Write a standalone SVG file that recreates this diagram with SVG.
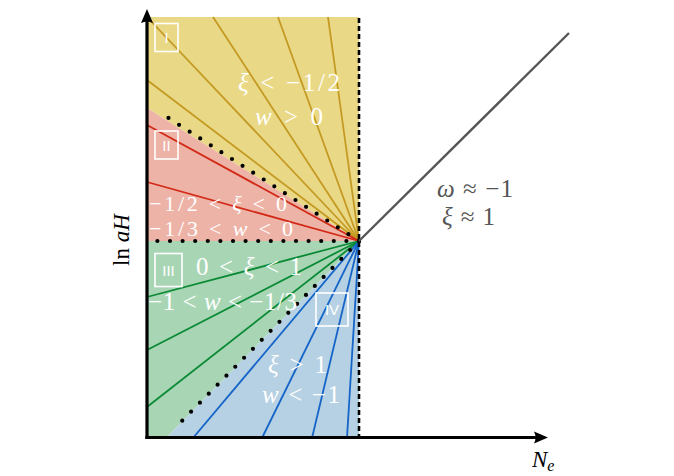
<svg xmlns="http://www.w3.org/2000/svg" width="674" height="476" viewBox="0 0 674 476">
<defs>
<style>
.lbl{font-family:"Liberation Serif","DejaVu Serif",serif;font-size:25px;fill:#fff;}
.sm{font-size:22px;}
.gray{fill:#555;}
.it{font-style:italic;}
.box{fill:none;stroke:#fff;stroke-width:1.6;}
.rn{font-family:"Liberation Sans","DejaVu Sans",sans-serif;font-size:15px;fill:#fff;text-anchor:middle;}
.fy{stroke:#C49A22;stroke-width:1.8;fill:none;}
.fr{stroke:#D22A17;stroke-width:1.8;fill:none;}
.fg{stroke:#0B8A35;stroke-width:1.8;fill:none;}
.fb{stroke:#1565C8;stroke-width:1.8;fill:none;}
.dots{stroke:#000;stroke-width:4.2;stroke-linecap:round;stroke-dasharray:0 12.6;fill:none;}
.dash{stroke:#000;stroke-width:2.6;stroke-dasharray:5 3;fill:none;}
.axis{stroke:#000;stroke-width:3.2;fill:none;}
</style>
</defs>
<g id="regions">
<polygon points="147,17 359,17 359,241 147,108" fill="#E9D886"/>
<polygon points="147,108 359,241 147,241" fill="#EDB3A7"/>
<polygon points="147,241 359,241 166,438 147,438" fill="#A8D6B5"/>
<polygon points="166,438 359,241 359,438" fill="#B7D1E4"/>
</g>
<g id="connectors">
<g id="fan-yellow">
<line class="fy" x1="359" y1="241" x2="147" y2="17"/>
<line class="fy" x1="359" y1="241" x2="147" y2="80"/>
<line class="fy" x1="359" y1="241" x2="213" y2="17"/>
<line class="fy" x1="359" y1="241" x2="278" y2="17"/>
<line class="fy" x1="359" y1="241" x2="328" y2="17"/>
</g>
<g id="fan-red">
<line class="fr" x1="359" y1="241" x2="147" y2="125"/>
<line class="fr" x1="359" y1="241" x2="147" y2="182"/>
</g>
<g id="fan-green">
<line class="fg" x1="359" y1="241" x2="147" y2="297"/>
<line class="fg" x1="359" y1="241" x2="147" y2="350"/>
<line class="fg" x1="359" y1="241" x2="147" y2="407"/>
</g>
<g id="fan-blue">
<line class="fb" x1="359" y1="241" x2="193" y2="438"/>
<line class="fb" x1="359" y1="241" x2="262" y2="438"/>
<line class="fb" x1="359" y1="241" x2="312" y2="438"/>
<line class="fb" x1="359" y1="241" x2="347" y2="438"/>
</g>
<line class="dots" x1="359" y1="241" x2="160" y2="112.5"/>
<line class="dots" x1="359" y1="241" x2="152" y2="241"/>
<line class="dots" x1="359" y1="241" x2="175" y2="428"/>
<line class="dash" x1="359" y1="18" x2="359" y2="437"/>
<line x1="359" y1="241" x2="569" y2="33" stroke="#555" stroke-width="2.4"/>
<g id="axes">
<line class="axis" x1="147" y1="439" x2="147" y2="20"/>
<line class="axis" x1="145.4" y1="437.5" x2="537" y2="437.5"/>
<path d="M147,9 L153,23 Q147,20 141,23 Z" fill="#000"/>
<path d="M548,437.5 L534,431.5 Q537,437.5 534,443.5 Z" fill="#000"/>
</g>
</g>
<g id="box-I">
<rect class="box" x="155" y="23.5" width="23" height="28"/>
<text class="rn" x="166.5" y="43">I</text>
</g>
<g id="box-II">
<rect class="box" x="155" y="131" width="23" height="28"/>
<text class="rn" x="166.5" y="150.5">II</text>
</g>
<g id="box-III">
<rect class="box" x="155" y="253.5" width="27" height="33"/>
<text class="rn" x="168.5" y="275.5">III</text>
</g>
<g id="box-IV">
<rect class="box" x="316" y="293" width="32" height="33"/>
<text class="rn" x="332" y="315">IV</text>
</g>
<g id="labels">
<text class="lbl" x="238" y="91" textLength="102" lengthAdjust="spacing"><tspan class="it">ξ</tspan> &lt; −1/2</text>
<text class="lbl" x="255" y="125" textLength="68" lengthAdjust="spacing"><tspan class="it">w</tspan> &gt; 0</text>
<text class="lbl sm" x="149" y="211" textLength="138" lengthAdjust="spacing">−1/2 &lt; <tspan class="it">ξ</tspan> &lt; 0</text>
<text class="lbl sm" x="149" y="236" textLength="144" lengthAdjust="spacing">−1/3 &lt; <tspan class="it">w</tspan> &lt; 0</text>
<text class="lbl" x="196" y="275" textLength="106" lengthAdjust="spacing">0 &lt; <tspan class="it">ξ</tspan> &lt; 1</text>
<text class="lbl" x="148" y="310" textLength="149" lengthAdjust="spacing">−1 &lt; <tspan class="it">w</tspan> &lt; −1/3</text>
<text class="lbl" x="268" y="373" textLength="59" lengthAdjust="spacing"><tspan class="it">ξ</tspan> &gt; 1</text>
<text class="lbl" x="262" y="403" textLength="78" lengthAdjust="spacing"><tspan class="it">w</tspan> &lt; −1</text>
<text class="lbl gray" x="437" y="197" textLength="76" lengthAdjust="spacing"><tspan class="it">ω</tspan> ≈ −1</text>
<text class="lbl gray" x="442" y="225" textLength="53" lengthAdjust="spacing"><tspan class="it">ξ</tspan> ≈ 1</text>
<text class="lbl" style="fill:#000;font-size:23px" transform="translate(129,240) rotate(-90)" text-anchor="middle">ln <tspan class="it">aH</tspan></text>
<text class="lbl" style="fill:#000;font-size:23px" x="532" y="467"><tspan class="it">N</tspan><tspan class="it" font-size="16" dy="4">e</tspan></text>
</g>
</svg>
